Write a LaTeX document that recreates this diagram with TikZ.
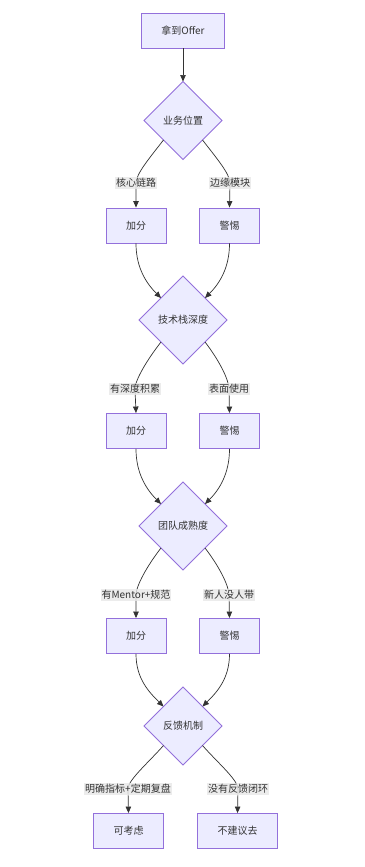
\documentclass[tikz,border=0pt]{standalone}
\usepackage{fontspec}
\newfontfamily\cjk{Noto Sans CJK SC}
\usetikzlibrary{shapes.geometric,arrows.meta}
\definecolor{nodefill}{HTML}{ECECFF}
\definecolor{nodeline}{HTML}{9370DB}
\definecolor{edgecol}{HTML}{333333}
\definecolor{labelgray}{HTML}{E8E8E8}
\definecolor{txt}{HTML}{333333}
\tikzset{
  every node/.style={font=\cjk\fontsize{10}{12}\selectfont, text=txt},
  box/.style={draw=nodeline, fill=nodefill, line width=0.9pt, rectangle, inner xsep=20pt, inner ysep=0pt, minimum height=35pt},
  dia/.style={draw=nodeline, fill=nodefill, line width=0.9pt, diamond, aspect=1, inner sep=0pt, outer sep=0pt},
  lbl/.style={fill=labelgray, fill opacity=0.8, text opacity=1, inner xsep=1pt, inner ysep=1.5pt},
  edge/.style={draw=edgecol, line width=0.7pt, -{Triangle[length=6.5pt,width=5.5pt]}}
}
\begin{document}
\begin{tikzpicture}[x=1pt,y=-1pt]
\fill[white] (0,0) rectangle (364,867);
\useasboundingbox (0,0) rectangle (364,867);
% nodes
\node[box] (top) at (183,30.5) {拿到Offer};
\node[dia, minimum width=78pt, minimum height=78pt] (d1) at (183,120.5) {业务位置};
\node[box] (b1a) at (136,225.5) {加分};
\node[box] (b1b) at (229.5,225.5) {警惕};
\node[dia, minimum width=88pt, minimum height=88pt] (d2) at (183,320) {技术栈深度};
\node[box] (b2a) at (136,431) {加分};
\node[box] (b2b) at (229.5,431) {警惕};
\node[dia, minimum width=88pt, minimum height=88pt] (d3) at (183,526) {团队成熟度};
\node[box] (b3a) at (136,636) {加分};
\node[box] (b3b) at (229.5,636) {警惕};
\node[dia, minimum width=78pt, minimum height=78pt] (d4) at (183,726) {反馈机制};
\node[box] (b4a) at (128.5,831) {可考虑};
\node[box] (b4b) at (237.5,831) {不建议去};
% label anchor coordinates
\coordinate (c1a) at (136,183);
\coordinate (c1b) at (230,183);
\coordinate (c2a) at (135,389);
\coordinate (c2b) at (229,389);
\coordinate (c3a) at (136,595);
\coordinate (c3b) at (229,595);
\coordinate (c4a) at (128,789);
\coordinate (c4b) at (238,789);
% edges
\draw[edge] (top) -- (d1.north);
\draw[edge] (d1.south west) .. controls +(-14,18) and +(0,-9) .. (c1a) -- (b1a.north);
\draw[edge] (d1.south east) .. controls +(14,18) and +(0,-9) .. (c1b) -- (b1b.north);
\draw[edge] (b1a.south) .. controls +(0,25) and +(-14,-14) .. (d2.north west);
\draw[edge] (b1b.south) .. controls +(0,25) and +(14,-14) .. (d2.north east);
\draw[edge] (d2.south west) .. controls +(-14,18) and +(0,-9) .. (c2a) -- (b2a.north);
\draw[edge] (d2.south east) .. controls +(14,18) and +(0,-9) .. (c2b) -- (b2b.north);
\draw[edge] (b2a.south) .. controls +(0,25) and +(-14,-14) .. (d3.north west);
\draw[edge] (b2b.south) .. controls +(0,25) and +(14,-14) .. (d3.north east);
\draw[edge] (d3.south west) .. controls +(-14,18) and +(0,-9) .. (c3a) -- (b3a.north);
\draw[edge] (d3.south east) .. controls +(14,18) and +(0,-9) .. (c3b) -- (b3b.north);
\draw[edge] (b3a.south) .. controls +(0,25) and +(-14,-14) .. (d4.north west);
\draw[edge] (b3b.south) .. controls +(0,25) and +(14,-14) .. (d4.north east);
\draw[edge] (d4.south west) .. controls +(-16,18) and +(0,-9) .. (c4a) -- (b4a.north);
\draw[edge] (d4.south east) .. controls +(16,18) and +(0,-9) .. (c4b) -- (b4b.north);
% labels
\node[lbl] (l1a) at (c1a) {核心链路};
\node[lbl] (l1b) at (c1b) {边缘模块};
\node[lbl] (l2a) at (c2a) {有深度积累};
\node[lbl] (l2b) at (c2b) {表面使用};
\node[lbl] (l3a) at (c3a) {有Mentor+规范};
\node[lbl] (l3b) at (c3b) {新人没人带};
\node[lbl] (l4a) at (c4a) {明确指标+定期复盘};
\node[lbl] (l4b) at (c4b) {没有反馈闭环};
\end{tikzpicture}
\end{document}
